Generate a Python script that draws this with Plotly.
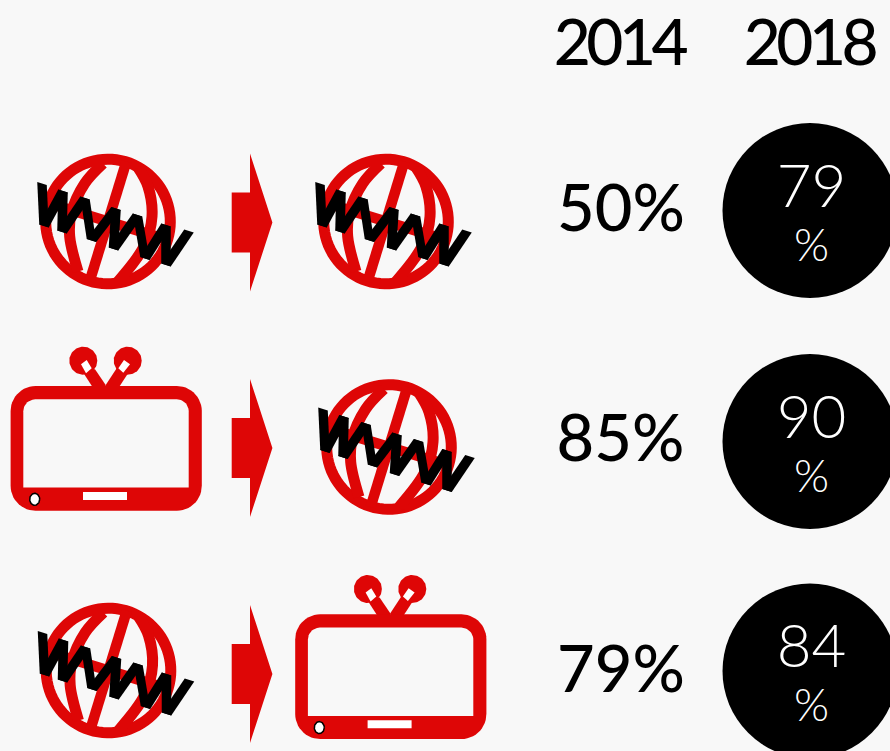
import numpy as np
import plotly.graph_objects as go

# Survey figures per device pairing
years = ["2014", "2018"]
row_from = ["web", "tv", "web"]
row_to = ["web", "web", "tv"]
values_2014 = [50, 85, 79]
values_2018 = [79, 90, 84]

RED = "#de0606"
BG = "#f8f8f8"
FONT = "Lato"

# Layout anchors on a page-sized pixel axis
from_web = [(108, 221.5), None, (108.5, 670.5)]
to_web = [(386, 221.5), (389, 447), None]
from_tv = [None, (106.2, 386), None]
to_tv = [None, None, (390.8, 614.3)]
arrow_y = [222.5, 448, 674]
row_text_y = [215, 445, 676]
bubble_y = [210.5, 441.5, 671]

fig = go.Figure()


def poly(xs, ys, color):
    fig.add_trace(go.Scatter(x=list(xs), y=list(ys), mode="lines", fill="toself",
                             fillcolor=color, line=dict(width=0, color=color),
                             hoverinfo="skip", showlegend=False))


def stroke(xs, ys, color, width, shape="linear"):
    fig.add_trace(go.Scatter(x=list(xs), y=list(ys), mode="lines",
                             line=dict(width=width, color=color, simplify=False, shape=shape),
                             hoverinfo="skip", showlegend=False))


def ellipse(cx, cy, rx, ry, tilt_deg=0, n=90, sweep=2 * np.pi):
    t = np.linspace(0, sweep, n)
    a = np.radians(tilt_deg)
    x, y = rx * np.cos(t), ry * np.sin(t)
    return cx + x * np.cos(a) - y * np.sin(a), cy + x * np.sin(a) + y * np.cos(a)


def rounded_rect(x0, y0, x1, y1, rt, rb, n=14):
    pts = []
    corners = [(x1 - rt, y0 + rt, rt, -90), (x1 - rb, y1 - rb, rb, 0),
               (x0 + rb, y1 - rb, rb, 90), (x0 + rt, y0 + rt, rt, 180)]
    for cx, cy, r, start in corners:
        for a in np.linspace(start, start + 90, n):
            pts.append((cx + r * np.cos(np.radians(a)), cy + r * np.sin(np.radians(a))))
    pts.append(pts[0])
    return zip(*pts)


WWW = [(-66, -38), (-64, 4.5), (-45, -30.5), (-46, 10.5), (-23, -23.5),
       (-16.5, 19), (8, -13), (5.5, 27.5), (29.5, -6.5), (37, 37),
       (58, 3.5), (58, 43.5), (81, 9.5)]
ARC_LEFT = [(-5, -58), (-23.3, -38), (-36.7, -8.3), (-38.3, 15), (-30, 50)]
ARC_RIGHT = [(30, -54), (40, -35), (44, -5), (36, 25), (10, 60)]
MERIDIAN = [(18.4, -60), (-18.4, 60)]
EQUATOR = [(-60, -18.4), (60, 18.4)]


def draw_web(cx, cy):
    x, y = ellipse(cx, cy, 62.3, 62.3, sweep=2.05 * np.pi)
    stroke(x, y, RED, 11)
    for pts, width, shape in ((ARC_LEFT, 11, "spline"), (ARC_RIGHT, 11, "spline"),
                              (MERIDIAN, 10.5, "linear"), (EQUATOR, 10.5, "linear")):
        stroke([cx + p[0] for p in pts], [cy + p[1] for p in pts], RED, width, shape)
    # Letter strokes of "www": butt ends run along the tilted baseline
    ux, uy = np.cos(np.radians(18)), np.sin(np.radians(18))
    half = 5.0
    for (ax, ay), (bx, by) in zip(WWW[:-1], WWW[1:]):
        poly([cx + ax - half * ux, cx + ax + half * ux, cx + bx + half * ux, cx + bx - half * ux, cx + ax - half * ux],
             [cy + ay - half * uy, cy + ay + half * uy, cy + by + half * uy, cy + by - half * uy, cy + ay - half * uy],
             "#000000")


def draw_tv(cx, top):
    for dx in (-22.9, 21.5):
        x, y = ellipse(cx + dx, top - 25.3, 14, 14)
        poly(x, y, RED)
    stick_l = [(-11.2, -16.7), (-0.5, -1), (-0.5, 5.7), (-12.9, 2.3), (-25.2, -16.7)]
    stick_r = [(10.5, -17.7), (-0.5, -1), (-0.5, 5.7), (12.1, 2.3), (24.5, -16.7)]
    tip_l = [(-19.5, -26), (-14.5, -17.7), (-20.2, -12.7), (-25.2, -21.7)]
    tip_r = [(17.8, -26), (23.8, -21.7), (17.1, -13.3), (12.1, -17.7)]
    for pts in (stick_l, stick_r):
        poly([cx + p[0] for p in pts + pts[:1]], [top + p[1] for p in pts + pts[:1]], RED)
    for pts in (tip_l, tip_r):
        poly([cx + p[0] for p in pts + pts[:1]], [top + p[1] for p in pts + pts[:1]], "#ffffff")
    x, y = rounded_rect(cx - 95.6, top, cx + 95.6, top + 124.8, 25, 25)
    poly(x, y, RED)
    x, y = rounded_rect(cx - 82.9, top + 13.3, cx + 82.5, top + 101.7, 12, 0.1)
    poly(x, y, BG)
    poly([cx - 23.2, cx + 20.8, cx + 20.8, cx - 23.2, cx - 23.2],
         [top + 106, top + 106, top + 114, top + 114, top + 106], "#ffffff")
    x, y = ellipse(cx - 71.5, top + 113.3, 5, 6)
    fig.add_trace(go.Scatter(x=x, y=y, mode="lines", fill="toself", fillcolor="#ffffff",
                             line=dict(width=1.5, color="#000000"), hoverinfo="skip", showlegend=False))


def draw_arrow(ym):
    poly([231.7, 250, 250, 272.4, 250, 250, 231.7, 231.7],
         [ym - 30, ym - 30, ym - 69, ym, ym + 69, ym + 30, ym + 30, ym - 30], RED)


for i in range(len(values_2014)):
    if row_from[i] == "web":
        draw_web(*from_web[i])
    else:
        draw_tv(*from_tv[i])
    draw_arrow(arrow_y[i])
    if row_to[i] == "web":
        draw_web(*to_web[i])
    else:
        draw_tv(*to_tv[i])

# Column headers, tracked tighter
fig.add_trace(go.Scatter(x=[619, 809], y=[49, 49], mode="text",
                         text=[f'<span style="letter-spacing:-4.5px">{y}</span>' for y in years],
                         textposition="middle center",
                         textfont=dict(family=FONT, size=64, color="#000000", weight=500),
                         hoverinfo="skip", showlegend=False))
# 2014 shares
fig.add_trace(go.Scatter(x=[621, 620.5, 621], y=row_text_y, mode="text",
                         text=[f"{v}%" for v in values_2014], textposition="middle center",
                         textfont=dict(family=FONT, size=65, color="#000000", weight=500),
                         hoverinfo="skip", showlegend=False))
# 2018 shares in black discs
fig.add_trace(go.Scatter(x=[810] * 3, y=bubble_y, mode="markers",
                         marker=dict(size=175, color="#000000", line=dict(width=0)),
                         hoverinfo="skip", showlegend=False))
fig.add_trace(go.Scatter(x=[811.5] * 3, y=[y - 19 for y in bubble_y], mode="text",
                         text=[str(v) for v in values_2018], textposition="middle center",
                         textfont=dict(family=FONT, size=60, color="#ffffff", weight=300),
                         hoverinfo="skip", showlegend=False))
fig.add_trace(go.Scatter(x=[811.5] * 3, y=[y + 39 for y in bubble_y], mode="text",
                         text=["%"] * 3, textposition="middle center",
                         textfont=dict(family=FONT, size=45, color="#ffffff", weight=300),
                         hoverinfo="skip", showlegend=False))

fig.update_layout(
    width=890, height=751, margin=dict(l=0, r=0, t=0, b=0),
    paper_bgcolor=BG, plot_bgcolor=BG, showlegend=False,
    xaxis=dict(range=[0, 890], visible=False, fixedrange=True),
    yaxis=dict(range=[751, 0], visible=False, fixedrange=True),
)
fig.write_html("out.html", config=dict(displayModeBar=False))
